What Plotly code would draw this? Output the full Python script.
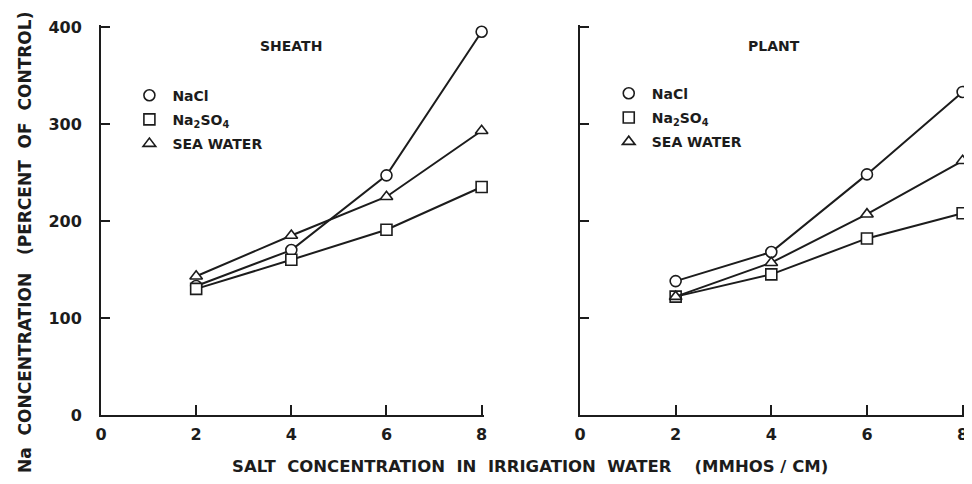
import plotly.graph_objects as go
from plotly.subplots import make_subplots

# salt concentration in irrigation water, mmhos/cm
salt = [2, 4, 6, 8]

# Na concentration, percent of control
sheath_nacl = [133, 170, 247, 395]
sheath_na2so4 = [130, 160, 191, 235]
sheath_sea = [143, 185, 225, 293]

plant_nacl = [138, 168, 248, 333]
plant_na2so4 = [122, 145, 182, 208]
plant_sea = [122, 157, 207, 262]

series_names = ["NaCl", "Na<sub>2</sub>SO<sub>4</sub>", "SEA WATER"]
symbols = ["circle", "square", "triangle-up"]
x_ticks = [0, 2, 4, 6, 8]
y_ticks = [0, 100, 200, 300, 400]

INK = "#1c1c1c"
FONT = "DejaVu Sans"

fig = make_subplots(rows=1, cols=2)

panels = [
    (1, "legend", [sheath_nacl, sheath_na2so4, sheath_sea]),
    (2, "legend2", [plant_nacl, plant_na2so4, plant_sea]),
]
for col, leg, data in panels:
    for i, ys in enumerate(data):
        # connecting line
        fig.add_trace(
            go.Scatter(
                x=salt, y=ys, mode="lines",
                line=dict(color=INK, width=2),
                showlegend=False, hoverinfo="skip", cliponaxis=False,
            ),
            row=1, col=col,
        )
        # hollow markers, white filled so the line stops at the edge
        fig.add_trace(
            go.Scatter(
                x=salt, y=ys, mode="markers",
                name=series_names[i],
                legend=leg,
                legendgroup=f"{leg}{i}",
                cliponaxis=False,
                marker=dict(
                    symbol=symbols[i],
                    size=11,
                    color="white",
                    line=dict(color=INK, width=1.6),
                ),
            ),
            row=1, col=col,
        )

axis_common = dict(
    showline=True, linecolor=INK, linewidth=2,
    ticks="inside", tickcolor=INK, tickwidth=1.5,
    showgrid=False, zeroline=False, automargin=False,
    tickfont=dict(family=FONT, size=16, color=INK, weight="bold"),
)
x_domains = {1: [0.0, 0.4433], 2: [0.5544, 1.0]}
for col in (1, 2):
    fig.update_xaxes(
        domain=x_domains[col],
        range=[0, 8.05], tickvals=x_ticks, ticklen=10, ticklabelstandoff=4,
        row=1, col=col, **axis_common,
    )
    fig.update_yaxes(
        range=[0, 402], tickvals=y_ticks, ticklen=9, ticklabelstandoff=14,
        showticklabels=(col == 1),
        row=1, col=col, **axis_common,
    )

fig.add_annotation(
    text="SHEATH", x=4, y=380, xref="x", yref="y", showarrow=False,
    font=dict(family=FONT, size=14, color=INK, weight="bold"),
)
fig.add_annotation(
    text="PLANT", x=4.05, y=380, xref="x2", yref="y2", showarrow=False,
    font=dict(family=FONT, size=14, color=INK, weight="bold"),
)
fig.add_annotation(
    text="SALT  CONCENTRATION  IN  IRRIGATION  WATER    (MMHOS / CM)",
    x=0.4965, y=-0.1333, xref="paper", yref="paper", showarrow=False,
    xanchor="center", yanchor="middle",
    font=dict(family=FONT, size=16.5, color=INK, weight="bold"),
)
fig.add_annotation(
    text="Na  CONCENTRATION   (PERCENT  OF  CONTROL)",
    x=-0.088, y=0.4436, xref="paper", yref="paper", showarrow=False,
    xanchor="center", yanchor="middle", textangle=-90,
    font=dict(family=FONT, size=17, color=INK, weight="bold"),
)

legend_style = dict(
    bgcolor="rgba(0,0,0,0)", borderwidth=0,
    font=dict(family=FONT, size=14, color=INK, weight="bold"),
    tracegroupgap=3, itemwidth=36, xanchor="left", yanchor="top",
)
fig.update_layout(
    # page body adds an 8 px offset, so the figure is 8 px smaller
    width=964, height=476,
    margin=dict(l=93, r=7, t=17, b=69),
    paper_bgcolor="white", plot_bgcolor="white",
    legend=dict(x=0.0294, y=0.86, **legend_style),
    legend2=dict(x=0.5842, y=0.865, **legend_style),
)

fig.write_html("out.html")
